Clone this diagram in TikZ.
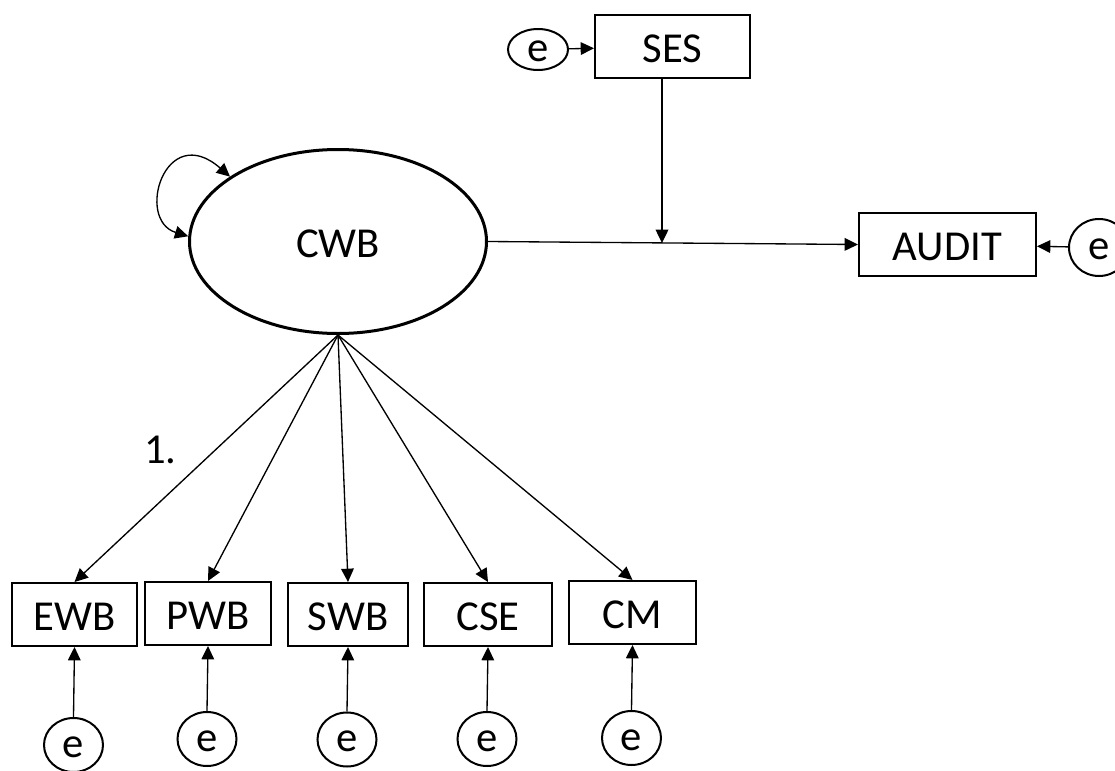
\documentclass[tikz,border=0pt]{standalone}
\usepackage{fontspec}
\setmainfont{Carlito}
\usetikzlibrary{arrows.meta,shapes.geometric}
\tikzset{>={Triangle[length=10pt,width=9.5pt]}}
\tikzset{
    obsbox/.style={draw, line width=1.5pt, inner sep=0pt, minimum height=63*0.75pt, text height=24pt, text depth=0pt, font=\fontsize{32}{38}\selectfont},
    errc/.style={draw, ellipse, line width=1.5pt, inner sep=0pt, text height=18pt, text depth=0pt, font=\fontsize{32}{38}\selectfont},
    latent/.style={draw, ellipse, line width=2.25pt, inner sep=0pt, text height=24pt, text depth=0pt, font=\fontsize{32}{38}\selectfont},
    path/.style={line width=1pt}
}

\begin{document}
\begin{tikzpicture}[x=0.75pt, y=-0.75pt]
    \useasboundingbox (0,0) rectangle (1115,771);

    % latent variable and outcome
    \node[latent, minimum width=297*0.75pt, minimum height=184*0.75pt] (CWB) at (338,241.5) {CWB};
    \node[obsbox, minimum width=177*0.75pt] (AUDIT) at (947.5,244.5) {AUDIT};
    \node[errc, minimum width=60*0.75pt, minimum height=57*0.75pt] (eAUDIT) at (1099,247.5) {e};

    % moderator
    \node[obsbox, minimum width=155*0.75pt] (SES) at (672.5,46.5) {SES};
    \node[errc, minimum width=60*0.75pt, minimum height=41*0.75pt] (eSES) at (538,49.5) {e};
    \coordinate (mod) at (662,243);

    \draw[path, ->] (eSES) -- (SES);
    \draw[path, ->] (CWB.east) -- (AUDIT.west);
    \draw[path, ->] (eAUDIT) -- (AUDIT);
    \draw[path, ->] (SES.south -| mod) -- (mod);

    % variance
    \draw[path, <->] (CWB.178) .. controls (135,220) and (165,120) .. (CWB.149);

    % indicators
    \foreach \nm/\x/\y/\w/\ey in {EWB/74.5/614.5/125/745, PWB/208/613.5/126/739, SWB/348/614.5/120/739.5, CSE/488/614.5/128/739, CM/632.5/612.5/127/738}
    {
        \node[obsbox, minimum width=\w*0.75pt] (\nm) at (\x,\y) {\nm};
        \node[errc, minimum width=59*0.75pt, minimum height=54*0.75pt] (e\nm) at (\x-1,\ey) {e};
        \draw[path, ->] (CWB.south) -- (\nm.north);
        \draw[path, ->] (e\nm.north) -- (\nm.south);
    }

    \node[anchor=base west, inner sep=0pt, font=\fontsize{32}{38}\selectfont] (load) at (144,463) {1.};
\end{tikzpicture}
\end{document}
